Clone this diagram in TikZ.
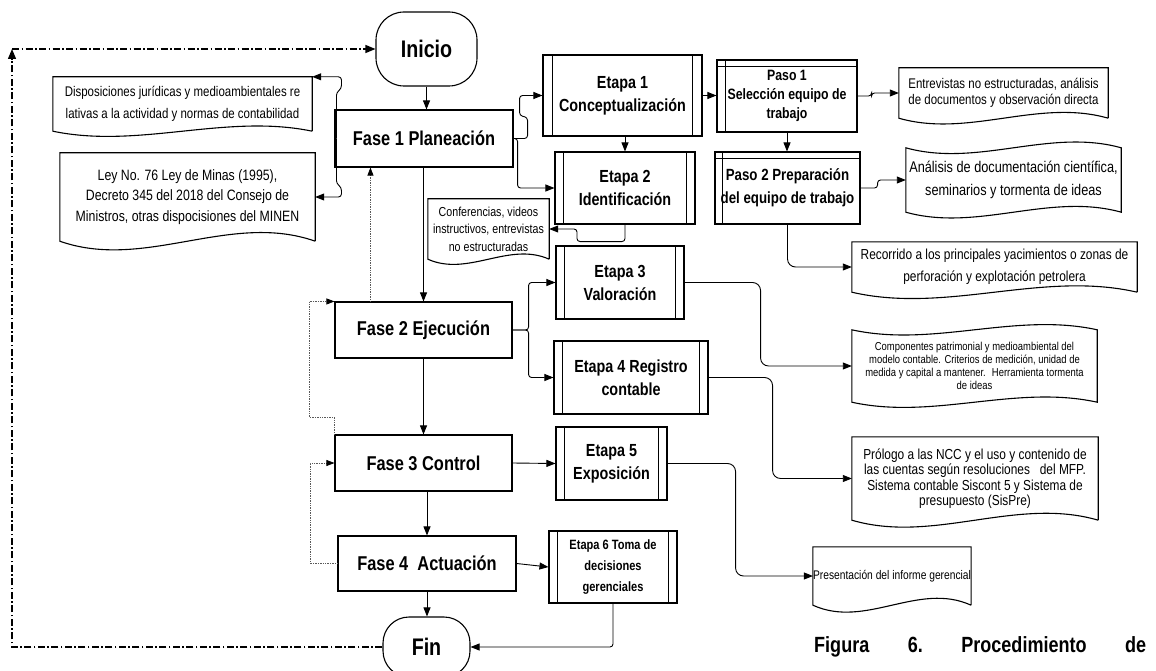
\documentclass[tikz,border=0pt]{standalone}
\usepackage{fontspec}
\setmainfont{Liberation Sans}[FakeStretch=0.82]
\usetikzlibrary{arrows.meta,calc}

% outline helpers for the special flowchart shapes
\newcommand\docframe[2]{% node, wave control offset (pt)
  \draw[boxline] let \p1=(#1.south west), \p2=(#1.north east), \n1={(\x2-\x1)/3} in
    (\x2,\y1) -- (\p2) -- (\x1,\y2) -- (\p1)
    .. controls +(\n1,-#2pt) and +(-\n1,#2pt) .. (\x2,\y1);}
\newcommand\tapeframe[2]{% node, wave control offset (pt)
  \draw[boxline] let \p1=(#1.south west), \p2=(#1.north east), \n1={(\x2-\x1)/3} in
    (\x1,\y2) .. controls +(\n1,-#2pt) and +(-\n1,#2pt) .. (\p2) -- (\x2,\y1)
    .. controls +(-\n1,#2pt) and +(\n1,-#2pt) .. (\p1) -- cycle;}
\newcommand\stagebars[2]{% predefined-process side bars
  \draw[boxline] ([xshift=#2pt]#1.north west) -- ([xshift=#2pt]#1.south west)
                 ([xshift=-#2pt]#1.north east) -- ([xshift=-#2pt]#1.south east);}
\newcommand\stepbars[3]{% internal-storage bars (left, top)
  \draw[boxline] ([xshift=#2pt]#1.north west) -- ([xshift=#2pt]#1.south west)
                 ([yshift=-#3pt]#1.north west) -- ([yshift=-#3pt]#1.north east);}

\tikzset{
  boxline/.style={line width=1.1pt},
  wh/.style 2 args={minimum width=#1pt, minimum height=#2pt},
  phase/.style={draw, boxline, inner sep=0pt, font=\fontsize{20}{24}\selectfont\bfseries},
  stage/.style={draw, boxline, inner sep=0pt, align=center, font=\fontsize{17.5}{23}\selectfont\bfseries},
  term/.style={draw, boxline, rounded corners=28pt, inner sep=0pt, font=\fontsize{24}{28}\selectfont\bfseries},
  paper/.style={inner sep=0pt, align=center},
  conn/.style={line width=0.9pt, -{Triangle[length=9pt,width=7pt]}, rounded corners=6pt},
  feedback/.style={line width=0.7pt, gray!70!black, densely dotted, -{Triangle[length=8pt,width=6pt,black]}},
  loopline/.style={line width=1.3pt, dash pattern=on 7pt off 2.5pt on 1.5pt off 2.5pt, -{Triangle[length=10pt,width=8pt]}},
}

\begin{document}
\begin{tikzpicture}[x=1pt,y=-1pt]
\fill[white] (0,0) rectangle (1156,671);
\useasboundingbox (0,0) rectangle (1156,671);

% terminators
\node[term, wh={101}{74}] (ini) at (426.5,49) {Inicio};
\node[term, rounded corners=26pt, wh={87}{60}] (fin) at (426.5,647) {Fin};

% phases
\node[phase, wh={178}{57}] (f1) at (424,138.5) {Fase 1 Planeación};
\node[phase, wh={177}{56}] (f2) at (423.5,330) {Fase 2 Ejecución};
\node[phase, wh={177}{56}] (f3) at (423.5,463) {Fase 3 Control};
\node[phase, wh={178}{55}] (f4) at (427,563.5) {Fase 4~ Actuación};

% stages
\node[stage, wh={159}{81}] (e1) at (622.5,95.5) {Etapa 1\\Conceptualización};
\node[stage, wh={140}{72}] (e2) at (625,188) {Etapa 2\\Identificación};
\node[stage, wh={128}{73}] (e3) at (620,282.5) {Etapa 3\\Valoración};
\node[stage, wh={154}{73}] (e4) at (631,377.5) {Etapa 4 Registro\\contable};
\node[stage, wh={111}{73}] (e5) at (611.5,463.5) {Etapa 5\\Exposición};
\node[stage, wh={128}{72}, font=\fontsize{13.5}{21}\selectfont\bfseries] (e6) at (613,567) {Etapa 6 Toma de\\decisiones\\gerenciales};
\stagebars{e1}{10}
\stagebars{e2}{9}
\stagebars{e3}{9}
\stagebars{e4}{9}
\stagebars{e5}{9}
\stagebars{e6}{9}

% steps
\node[stage, wh={140}{72}, font=\fontsize{15}{19}\selectfont\bfseries] (p1) at (787,96) {Paso 1\\Selección equipo de\\trabajo};
\node[stage, wh={145}{72}, font=\fontsize{16.2}{23}\selectfont\bfseries] (p2) at (787.5,188) {Paso 2 Preparación\\del equipo de trabajo};
\stepbars{p1}{9}{7}
\stepbars{p2}{8}{7}

% documents and tapes
\node[paper, wh={259}{54}, font=\fontsize{14}{22}\selectfont] (disp) at (182.5,104)
  {Disposiciones jurídicas y medioambientales re\\lativas a la actividad y normas de contabilidad};
\node[paper, wh={255}{88}, font=\fontsize{15}{20.5}\selectfont] (ley) at (187.5,197)
  {Ley No. 76 Ley de Minas (1995),\\Decreto 345 del 2018 del Consejo de\\Ministros, otras dispocisiones del MINEN};
\node[paper, wh={121}{60}, font=\fontsize{13}{17.5}\selectfont] (conf) at (488.5,229)
  {Conferencias, videos\\instructivos, entrevistas\\no estructuradas};
\node[paper, wh={209}{50}, font=\fontsize{14}{16.5}\selectfont] (ent) at (1003.5,93)
  {Entrevistas no estructuradas, análisis\\de documentos y observación directa};
\node[paper, wh={215}{64}, font=\fontsize{15.5}{23}\selectfont] (ana) at (1013.5,180)
  {Análisis de documentación científica,\\seminarios y tormenta de ideas};
\node[paper, wh={285}{50}, font=\fontsize{14.5}{22}\selectfont] (rec) at (994.5,267)
  {Recorrido a los principales yacimientos o zonas de\\perforación y explotación petrolera};
\node[paper, wh={245}{72}, font=\fontsize{11.5}{12.8}\selectfont] (comp) at (974.5,366)
  {Componentes patrimonial y medioambiental del\\modelo contable. Criterios de medición, unidad de\\medida y capital a mantener.~ Herramienta tormenta\\de ideas};
\node[paper, wh={246}{83}, font=\fontsize{14.5}{15.5}\selectfont] (prol) at (975,478.5)
  {Prólogo a las NCC y el uso y contenido de\\las cuentas según resoluciones~~ del MFP.\\Sistema contable Siscont 5 y Sistema de\\presupuesto (SisPre)};
\node[paper, wh={156}{58}, font=\fontsize{12.5}{15}\selectfont] (pres) at (892,576)
  {Presentación del informe gerencial};
\docframe{disp}{18}
\docframe{ley}{30}
\docframe{conf}{18}
\docframe{ent}{20}
\tapeframe{ana}{20}
\docframe{rec}{22}
\tapeframe{comp}{18}
\docframe{prol}{24}
\docframe{pres}{24}

% main flow
\draw[conn] (ini.south) -- (ini.south |- f1.north);
\draw[conn] (f2.north |- f1.south) -- (f2.north);
\draw[conn] (f2.south) -- (f3.north);
\draw[conn] (f4.north |- f3.south) -- (f4.north);
\draw[conn] (f4.south) -- (f4.south |- fin.north);

% planning
\draw[conn, rounded corners=3pt] ([xshift=2pt]f1.west) -- ++(0,-46) -- ++(5,-4) |- (disp.north east);
\draw[conn, rounded corners=3pt] ([xshift=2pt]f1.west) -- ++(0,45) -- ++(5,4) |- (ley.east);
\draw[conn, rounded corners=3pt] (f1.east) -- ++(14,0) -- ++(0,-21) -- ++(-8,-2) |- (e1.west);
\draw[conn, rounded corners=3pt] (f1.east) -- ++(4,0) |- (e2.west);
\draw[conn] (e2.north |- e1.south) -- (e2.north);
\draw[conn] (e1.east) -- (e1.east -| p1.west);
\draw[conn, rounded corners=3pt] (e2.south) -- ++(0,17) -- ++(-48,0) |- (conf.east);
\draw[conn] (p1.south) -- (p1.south |- p2.north);
\draw[conn, rounded corners=3pt] (p1.east) -- ++(14,0) |- (ent.west);
\draw[conn, rounded corners=3pt] (p2.east) -- ++(17,0) |- (ana.west);
\draw[conn, rounded corners=8pt] (p2.south) |- (rec.west);

% execution, control, action
\draw[conn, rounded corners=3pt] (f2.east) -- ++(16,0) |- (e3.west);
\draw[conn, rounded corners=3pt] (f2.east) -- ++(16,0) |- (e4.west);
\draw[conn, rounded corners=8pt] (e3.east) -- ++(76,0) |- (comp.west);
\draw[conn, rounded corners=8pt] (e4.east) -- ++(64,0) |- (prol.west);
\draw[conn] (f3.east) -- (e5.west);
\draw[conn, rounded corners=8pt] (e5.east) -- ++(68,0) |- (pres.west);
\draw[conn] (f4.east) -- (e6.west);
\draw[conn, rounded corners=3pt] (e6.south) |- (fin.east);

% feedback between phases
\draw[feedback] ([xshift=36pt]f2.north west) -- ([xshift=36pt]f1.south west);
\draw[feedback] (f3.north west) -- ++(0,-17) -- ++(-25,0) |- (f2.north west);
\draw[feedback] (f4.west) -- ++(-27,0) |- (f3.west);

% return loop
\coordinate (back) at (12,49);
\draw[loopline] (fin.west) -| (back);
\draw[loopline] (back) -- (ini.west);

% caption
\node[anchor=base west, inner sep=0pt, font=\fontsize{22}{26}\selectfont\bfseries] (cap) at (814,652)
  {\makebox[332pt]{Figura\hfill 6.\hfill Procedimiento\hfill de}};
\end{tikzpicture}
\end{document}
